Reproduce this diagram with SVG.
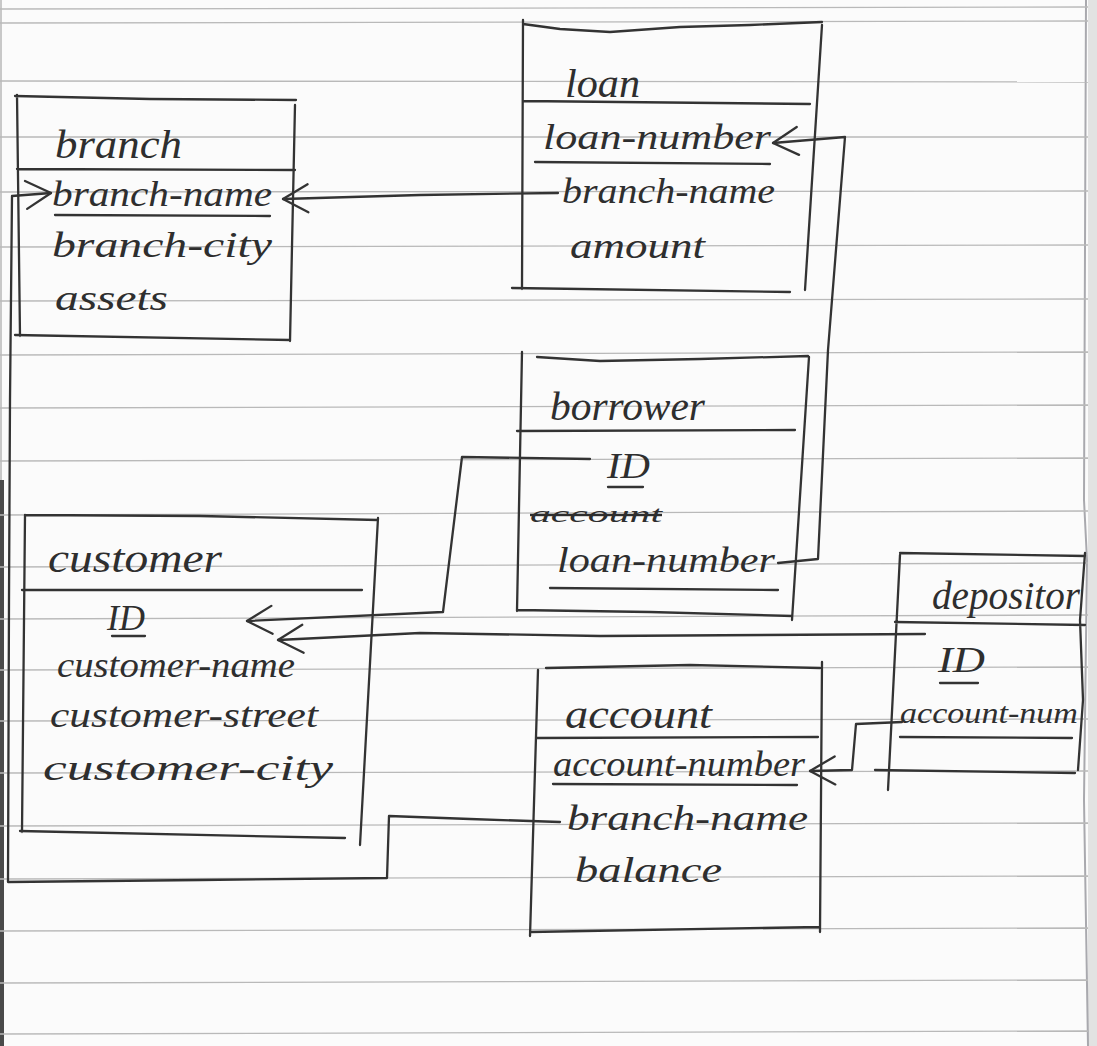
<svg xmlns="http://www.w3.org/2000/svg" width="1097" height="1046" viewBox="0 0 1097 1046">
<defs>
<style>
.rule{stroke:#b9b9b9;stroke-width:1.3;fill:none}
.ink{stroke:#333;stroke-width:2.3;fill:none;stroke-linecap:round;stroke-linejoin:round}
.t{font-family:"Liberation Serif","DejaVu Serif",serif;font-style:italic;fill:#2e2e2e;font-size:36px}
.h{font-size:40px}
</style>
<marker id="chev" viewBox="0 0 30 32" refX="28" refY="16" markerWidth="30" markerHeight="32" markerUnits="userSpaceOnUse" orient="auto">
<path d="M3 2 L28 16 L3 30" fill="none" stroke="#333" stroke-width="2.3" stroke-linecap="round" stroke-linejoin="round"/>
</marker>
</defs>
<rect width="1097" height="1046" fill="#fbfbfb"/>
<g id="paper">
<rect x="1088" y="0" width="9" height="1046" fill="#e2e2e2"/>
<path d="M1086 0 L1084 500 L1087 560 L1084 800 L1088 1046" stroke="#a9a9ae" stroke-width="2" fill="none"/>
<rect x="0" y="0" width="2" height="1046" fill="#c8c8c8"/>
<rect x="0" y="480" width="4" height="566" fill="#4a4a4a"/>
<g class="rule">
<path d="M0 9 L1088 7"/><path d="M0 23 L1088 21"/><path d="M0 81 L1088 82"/><path d="M0 137 L1088 137"/>
<path d="M0 192 L1088 191"/><path d="M0 247 L1088 245"/><path d="M0 301 L1088 299"/><path d="M0 355 L1088 352"/>
<path d="M0 408 L1088 405"/><path d="M0 461 L1088 458"/><path d="M0 515 L1088 511"/><path d="M0 567 L1088 563"/>
<path d="M0 619 L1088 615"/><path d="M0 670 L1088 667"/><path d="M0 721 L1088 719"/><path d="M0 773 L1088 771"/>
<path d="M0 826 L1088 823"/><path d="M0 879 L1088 876"/><path d="M0 931 L1088 928"/><path d="M0 983 L1088 980"/>
<path d="M0 1034 L1088 1031"/>
</g>
</g>
<g id="connectors" class="ink">
<path d="M560 822 L470 819 L389 816 L387 878 L200 880 L8 882 L9 600 L10 400 L12 196 L51 193" marker-end="url(#chev)"/>
<path d="M558 193 L420 195 L283 199" marker-end="url(#chev)"/>
<path d="M778 563 L818 559 L828 350 L845 137 L773 143" marker-end="url(#chev)"/>
<path d="M590 459 L462 457 L443 612 L247 621" marker-end="url(#chev)"/>
<path d="M925 634 L600 636 L420 633 L278 640" marker-end="url(#chev)"/>
<path d="M902 722 L856 724 L852 770 L810 771" marker-end="url(#chev)"/>
</g>
<g id="branch">
<path class="ink" d="M15 96 L150 99 L296 100 M17 95 L20 336 M295 105 L290 341 M17 169 L295 170 M15 335 L290 340 M55 215 L270 216"/>
<text class="t h" x="55" y="158" textLength="127" lengthAdjust="spacingAndGlyphs">branch</text>
<text class="t" x="52" y="206" textLength="220" lengthAdjust="spacingAndGlyphs">branch-name</text>
<text class="t" x="52" y="257" textLength="220" lengthAdjust="spacingAndGlyphs">branch-city</text>
<text class="t" x="55" y="310" textLength="113" lengthAdjust="spacingAndGlyphs">assets</text>
</g>
<g id="loan">
<path class="ink" d="M523 24 L560 29 L610 32 L680 27 L750 25 L822 22 M523 20 L522 289 M822 25 L805 290 M523 101 L810 104 M512 288 L790 292 M535 162 L770 164"/>
<text class="t h" x="565" y="97" textLength="75" lengthAdjust="spacingAndGlyphs">loan</text>
<text class="t" x="543" y="149" textLength="228" lengthAdjust="spacingAndGlyphs">loan-number</text>
<text class="t" x="562" y="203" textLength="213" lengthAdjust="spacingAndGlyphs">branch-name</text>
<text class="t" x="570" y="258" textLength="135" lengthAdjust="spacingAndGlyphs">amount</text>
</g>
<g id="borrower">
<path class="ink" d="M537 357 L600 361 L700 359 L808 356 M522 352 L517 611 M809 357 L792 620 M517 431 L795 430 M517 610 L650 612 L792 616 M608 487 L643 487 M550 588 L778 590"/>
<text class="t h" x="550" y="420" textLength="155" lengthAdjust="spacingAndGlyphs">borrower</text>
<text class="t" x="607" y="478" textLength="43" lengthAdjust="spacingAndGlyphs">ID</text>
<text class="t" x="530" y="522" textLength="132" lengthAdjust="spacingAndGlyphs" style="font-size:24px;text-decoration:line-through">account</text>
<text class="t" x="557" y="572" textLength="218" lengthAdjust="spacingAndGlyphs">loan-number</text>
</g>
<g id="customer">
<path class="ink" d="M25 515 L200 516 L378 520 M25 515 L22 832 M378 518 L360 845 M22 590 L362 590 M20 831 L345 838 M112 636 L145 636"/>
<text class="t h" x="48" y="572" textLength="174" lengthAdjust="spacingAndGlyphs">customer</text>
<text class="t" x="107" y="630" textLength="38" lengthAdjust="spacingAndGlyphs">ID</text>
<text class="t" x="57" y="677" textLength="238" lengthAdjust="spacingAndGlyphs">customer-name</text>
<text class="t" x="50" y="727" textLength="268" lengthAdjust="spacingAndGlyphs">customer-street</text>
<text class="t" x="43" y="780" textLength="290" lengthAdjust="spacingAndGlyphs">customer-city</text>
</g>
<g id="account">
<path class="ink" d="M546 668 L690 665 L820 668 M538 670 L530 936 M822 662 L820 932 M537 738 L818 737 M530 932 L820 927 M553 784 L797 785"/>
<text class="t h" x="565" y="728" textLength="147" lengthAdjust="spacingAndGlyphs">account</text>
<text class="t" x="553" y="776" textLength="252" lengthAdjust="spacingAndGlyphs">account-number</text>
<text class="t" x="567" y="830" textLength="241" lengthAdjust="spacingAndGlyphs">branch-name</text>
<text class="t" x="575" y="882" textLength="147" lengthAdjust="spacingAndGlyphs">balance</text>
</g>
<g id="depositor">
<path class="ink" d="M900 553 L1085 556 M900 555 L888 790 M1085 553 L1080 620 L1083 700 L1078 770 M895 622 L1085 625 M875 770 L1075 773 M940 683 L978 683 M900 737 L1072 738"/>
<text class="t h" x="932" y="609" textLength="148" lengthAdjust="spacingAndGlyphs">depositor</text>
<text class="t" x="938" y="672" textLength="47" lengthAdjust="spacingAndGlyphs">ID</text>
<text class="t" x="900" y="723" textLength="178" lengthAdjust="spacingAndGlyphs" style="font-size:30px">account-num</text>
</g>
</svg>
